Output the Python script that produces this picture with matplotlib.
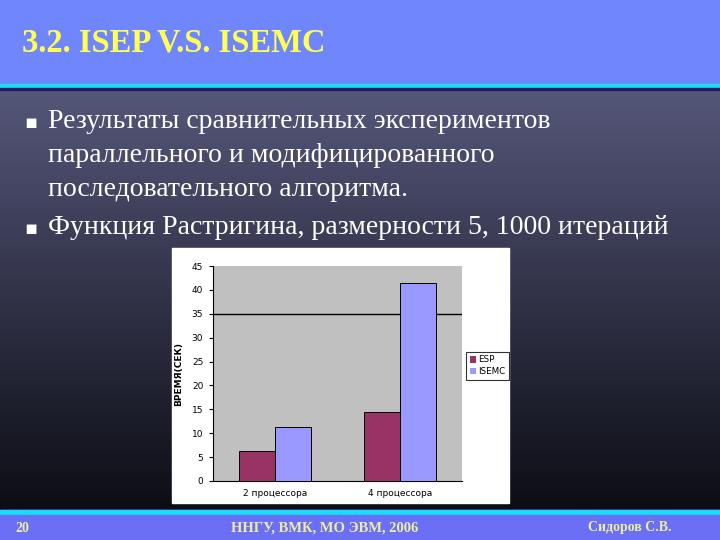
import numpy as np
import matplotlib
matplotlib.use("Agg")
import matplotlib.pyplot as plt
from matplotlib.patches import Rectangle

# chart data
categories = ["2 процессора", "4 процессора"]
esp_time = [6.3, 14.5]
isemc_time = [11.3, 41.5]
series_names = ["ESP", "ISEMC"]
y_ticks = [0, 5, 10, 15, 20, 25, 30, 35, 40, 45]

title = "3.2. ISEP V.S. ISEMC"
bullets = [
    ["Результаты сравнительных экспериментов",
     "параллельного и модифицированного",
     "последовательного алгоритма."],
    ["Функция Растригина, размерности 5, 1000 итераций"],
]
footer_left = "20"
footer_mid = "ННГУ, ВМК, МО ЭВМ, 2006"
footer_right = "Сидоров С.В."

W, H = 720, 540
fig = plt.figure(figsize=(7.2, 5.4), dpi=100)

# slide background: gradient body
bg = fig.add_axes([0, 0, 1, 1])
bg.set_xlim(0, W)
bg.set_ylim(H, 0)
bg.axis("off")
top_c = np.array([0x55, 0x57, 0x7a]) / 255
bot_c = np.array([0x0c, 0x0d, 0x14]) / 255
t = np.linspace(0, 1, 256)[:, None]
grad = top_c * (1 - t) + bot_c * t
bg.imshow(grad[:, None, :].repeat(2, axis=1), extent=[0, W, 510, 89],
          aspect="auto", zorder=0)

# header and footer bars
bg.add_patch(Rectangle((0, 0), W, 84, color="#6f86fd", zorder=1))
bg.add_patch(Rectangle((0, 84), W, 4, color="#19dcff", zorder=1))
bg.add_patch(Rectangle((0, 88), W, 1.5, color="#1a2060", zorder=1))
bg.add_patch(Rectangle((0, 509), W, 2, color="#1a2060", zorder=1))
bg.add_patch(Rectangle((0, 510), W, 5, color="#19dcff", zorder=1))
bg.add_patch(Rectangle((0, 515), W, 25, color="#6a6ff6", zorder=1))

serif = "Liberation Serif"
bg.text(22, 43, title, fontsize=23.5, fontweight="bold", color="#ffff55",
        family=serif, va="center", ha="left", zorder=3)

y = 121
for para in bullets:
    bg.text(24, y + 2, "\u25aa", fontsize=14, color="white",
            family="DejaVu Sans", va="center", ha="left", zorder=3)
    for line in para:
        bg.text(48, y, line, fontsize=20, color="white", family=serif,
                va="center", ha="left", zorder=3)
        y += 34
    y += 4

fc = "#eeee99"
bg.text(15, 528, footer_left, fontsize=10, fontweight="bold", color=fc,
        family=serif, va="center", ha="left", zorder=3)
bg.text(325, 528, footer_mid, fontsize=10.5, fontweight="bold", color=fc,
        family=serif, va="center", ha="center", zorder=3)
bg.text(630, 528, footer_right, fontsize=10, fontweight="bold", color=fc,
        family=serif, va="center", ha="center", zorder=3)

# white chart box
bg.add_patch(Rectangle((172, 248), 337, 255, color="white", zorder=2))

# chart
ax = fig.add_axes([213 / W, (H - 481) / H, (462 - 213) / W, (481 - 266) / H])
ax.set_facecolor("#c0c0c0")
x = np.arange(len(categories))
bw = 0.29
ax.bar(x - bw / 2, esp_time, bw, color="#993366", edgecolor="black",
       linewidth=0.7, label=series_names[0], zorder=3)
ax.bar(x + bw / 2, isemc_time, bw, color="#9999ff", edgecolor="black",
       linewidth=0.7, label=series_names[1], zorder=3)
ax.axhline(35, color="black", linewidth=1, zorder=2)
ax.set_xlim(-0.5, 1.5)
ax.set_ylim(0, 45)
ax.set_yticks(y_ticks)
ax.set_xticks(x)
ax.set_xticklabels(categories)
ax.tick_params(axis="y", labelsize=6.5, length=3, width=0.8, pad=4)
ax.tick_params(axis="x", labelsize=6.5, length=0, pad=6)
for s in ["top", "right"]:
    ax.spines[s].set_visible(False)
for s in ["left", "bottom"]:
    ax.spines[s].set_linewidth(0.8)
ax.set_ylabel("ВРЕМЯ(СЕК)", fontsize=6.5, fontweight="bold", labelpad=6)

leg = fig.legend(loc="upper left", bbox_to_anchor=(466 / W, (H - 352) / H),
                 fontsize=6.3, frameon=True, fancybox=False, handlelength=0.7,
                 handleheight=0.7, handletextpad=0.3, borderpad=0.4,
                 labelspacing=0.3, borderaxespad=0)
leg.get_frame().set_edgecolor("black")
leg.get_frame().set_linewidth(0.8)
for h in leg.legend_handles:
    h.set_edgecolor("none")

fig.savefig("out.png", dpi=100)
